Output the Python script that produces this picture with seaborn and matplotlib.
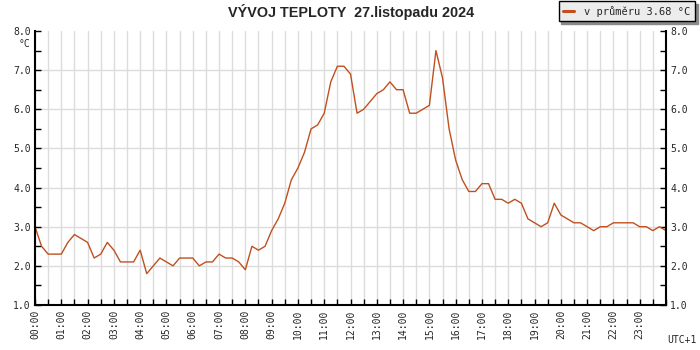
import matplotlib
matplotlib.use("Agg")
import numpy as np
import pandas as pd
import matplotlib.pyplot as plt
import seaborn as sns
from matplotlib.ticker import MultipleLocator

TITLE = "VÝVOJ TEPLOTY  27.listopadu 2024"
LEGEND_LABEL = "v průměru 3.68 °C"

# 15-minute readings, 00:00 .. 24:00
STEP_HOURS = 0.25
TEMPS = [
    3.0, 2.5, 2.3, 2.3, 2.3, 2.6, 2.8, 2.7,   # 00:00 - 01:45
    2.6, 2.2, 2.3, 2.6, 2.4, 2.1, 2.1, 2.1,   # 02:00 - 03:45
    2.4, 1.8, 2.0, 2.2, 2.1, 2.0, 2.2, 2.2,   # 04:00 - 05:45
    2.2, 2.0, 2.1, 2.1, 2.3, 2.2, 2.2, 2.1,   # 06:00 - 07:45
    1.9, 2.5, 2.4, 2.5, 2.9, 3.2, 3.6, 4.2,   # 08:00 - 09:45
    4.5, 4.9, 5.5, 5.6, 5.9, 6.7, 7.1, 7.1,   # 10:00 - 11:45
    6.9, 5.9, 6.0, 6.2, 6.4, 6.5, 6.7, 6.5,   # 12:00 - 13:45
    6.5, 5.9, 5.9, 6.0, 6.1, 7.5, 6.8, 5.5,   # 14:00 - 15:45
    4.7, 4.2, 3.9, 3.9, 4.1, 4.1, 3.7, 3.7,   # 16:00 - 17:45
    3.6, 3.7, 3.6, 3.2, 3.1, 3.0, 3.1, 3.6,   # 18:00 - 19:45
    3.3, 3.2, 3.1, 3.1, 3.0, 2.9, 3.0, 3.0,   # 20:00 - 21:45
    3.1, 3.1, 3.1, 3.1, 3.0, 3.0, 2.9, 3.0,   # 22:00 - 23:45
    2.9,                                      # 24:00
]
HOUR_LABELS = [f"{h:02d}:00" for h in range(24)]
Y_TICKS = [1, 2, 3, 4, 5, 6, 7, 8]

LINE_COLOR = "#c0501e"
GRID_COLOR = "#dcdcdc"
MONO = "DejaVu Sans Mono"

df = pd.DataFrame({
    "hodina": np.arange(len(TEMPS)) * STEP_HOURS,
    "teplota": TEMPS,
})

sns.set_style("white")
plt.rcParams["font.family"] = [MONO]

W, H = 700, 350
fig = plt.figure(figsize=(7, 3.5), dpi=100)
ax = fig.add_axes([35 / W, 1 - 305 / H, (666 - 35) / W, (305 - 31) / H])

sns.lineplot(data=df, x="hodina", y="teplota", color=LINE_COLOR,
             linewidth=1, ax=ax, label=LEGEND_LABEL)

ax.set_xlim(0, 24)
ax.set_ylim(1, 8)
ax.set_xlabel("")
ax.set_ylabel("")

# x: labelled hours, ticks + grid every half hour
ax.set_xticks(range(24))
ax.set_xticklabels(HOUR_LABELS, rotation=90, fontsize=7)
ax.xaxis.set_minor_locator(MultipleLocator(0.5))
ax.set_yticks(Y_TICKS)
ax.set_yticklabels([f"{v:.1f}" for v in Y_TICKS], fontsize=7)
ax.yaxis.set_minor_locator(MultipleLocator(0.5))

ax.grid(which="both", axis="x", color=GRID_COLOR, linewidth=1)
ax.grid(which="major", axis="y", color=GRID_COLOR, linewidth=1)
ax.get_ygridlines()[-1].set_visible(False)
ax.set_axisbelow(True)

for side in ["left", "right", "bottom"]:
    ax.spines[side].set_color("black")
    ax.spines[side].set_linewidth(1.5)
ax.spines["top"].set_visible(False)

ax.tick_params(which="both", direction="in", length=4, width=1, color="black",
               left=True, right=True, bottom=True, top=False,
               labelleft=True, labelright=True, pad=3)

ax.get_legend().remove()
handles, labels = ax.get_legend_handles_labels()
leg = fig.legend(handles, labels, loc="upper right",
                 bbox_to_anchor=(696 / W, 1.0),
                 frameon=True, fancybox=False,
                 shadow={"ox": 2, "oy": -2, "color": "#8a8a8a", "alpha": 1},
                 facecolor="#ececec", edgecolor="black", framealpha=1,
                 handlelength=1.0, handletextpad=1.0, borderpad=0.45,
                 borderaxespad=0.1,
                 prop={"family": MONO, "size": 7.5})
leg.get_frame().set_linewidth(1)
leg.get_lines()[0].set_linewidth(2.2)

fig.text(351 / W, 1 - 12 / H, TITLE, ha="center", va="center",
         fontsize=10.4, fontweight="bold", family="Liberation Sans")
fig.text(30 / W, 1 - 44 / H, "°C", ha="right", va="center", fontsize=7)
fig.text(697 / W, 1 - 340 / H, "UTC+1", ha="right", va="center", fontsize=7)

fig.savefig("out.png", dpi=100)
